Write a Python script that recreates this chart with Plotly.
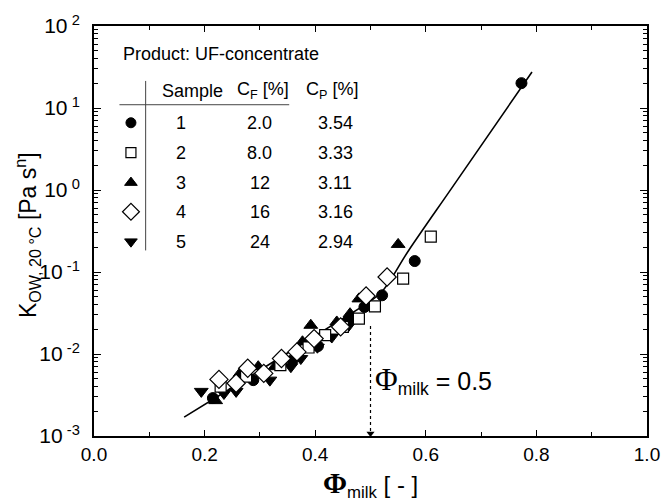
import plotly.graph_objects as go

# ---------------- data ----------------
s1_phi = [0.215, 0.288, 0.359, 0.405, 0.460, 0.489, 0.521, 0.580, 0.773]
s1_K = [0.0029, 0.0048, 0.0084, 0.0125, 0.026, 0.0374, 0.052, 0.136, 20.1]

s2_phi = [0.229, 0.275, 0.337, 0.388, 0.418, 0.450, 0.479, 0.508, 0.559, 0.609]
s2_K = [0.0040, 0.0053, 0.0073, 0.0120, 0.0170, 0.0214, 0.027, 0.038, 0.083, 0.27]

s3_phi = [0.220, 0.264, 0.297, 0.327, 0.377, 0.392, 0.439, 0.463, 0.479, 0.550]
s3_K = [0.0027, 0.0058, 0.0070, 0.0070, 0.0141, 0.0224, 0.0246, 0.031, 0.047, 0.217]

s4_phi = [0.226, 0.257, 0.278, 0.307, 0.339, 0.367, 0.398, 0.446, 0.492, 0.530]
s4_K = [0.0049, 0.0044, 0.0067, 0.0058, 0.0088, 0.0106, 0.0154, 0.0214, 0.051, 0.087]

s5_phi = [0.194, 0.235, 0.257, 0.318, 0.356, 0.374, 0.404, 0.430, 0.460]
s5_K = [0.0035, 0.0033, 0.0035, 0.0048, 0.0070, 0.0088, 0.0121, 0.0161, 0.022]

fit_phi = [0.163, 0.25, 0.35, 0.45, 0.49, 0.52, 0.569, 0.65, 0.792]
fit_K = [0.0017, 0.0039, 0.0103, 0.027, 0.040, 0.057, 0.183, 1.13, 27.5]

phi_crit = 0.5
phi_crit_K_top = 0.022
y_axis_min = 0.001

samples = ["1", "2", "3", "4", "5"]
cf_values = ["2.0", "8.0", "12", "16", "24"]
cp_values = ["3.54", "3.33", "3.11", "3.16", "2.94"]

y_tickvals = [1e-3, 1e-2, 1e-1, 1e0, 1e1, 1e2]
y_ticktext = ["10<sup> -3</sup>", "10<sup> -2</sup>", "10<sup> -1</sup>",
              "10<sup> 0</sup>", "10<sup> 1</sup>", "10<sup> 2</sup>"]
y_minor_vals = [m * d for d in [1e-3, 1e-2, 1e-1, 1e0, 1e1] for m in range(2, 10)]
x_tickvals = [0.0, 0.2, 0.4, 0.6, 0.8, 1.0]
x_ticktext = ["0.0", "0.2", "0.4", "0.6", "0.8", "1.0"]
x_minor_vals = [0.1, 0.3, 0.5, 0.7, 0.9]

# ---------------- styling ----------------
FONT = "Liberation Sans, Arial, Helvetica, sans-serif"

styles = [
    dict(symbol="circle", size=11, color="black", line=dict(color="black", width=1)),
    dict(symbol="square", size=11, color="white", line=dict(color="black", width=1.2)),
    dict(symbol="triangle-up", size=12, color="black", line=dict(color="black", width=1)),
    dict(symbol="diamond", size=14, color="white", line=dict(color="black", width=1.2)),
    dict(symbol="triangle-down", size=12, color="black", line=dict(color="black", width=1)),
]

series = [(s1_phi, s1_K), (s2_phi, s2_K), (s3_phi, s3_K), (s4_phi, s4_K), (s5_phi, s5_K)]

fig = go.Figure()

# fitted curve
fig.add_trace(go.Scatter(x=fit_phi, y=fit_K, mode="lines", line=dict(color="black", width=1.6),
                         line_shape="spline", showlegend=False, hoverinfo="skip"))

# dotted marker line at phi = 0.5
fig.add_trace(go.Scatter(x=[phi_crit, phi_crit], y=[phi_crit_K_top, y_axis_min * 1.06], mode="lines",
                         line=dict(color="black", width=1.2, dash="dot"), showlegend=False))
fig.add_trace(go.Scatter(x=[phi_crit], y=[y_axis_min * 1.07], mode="markers",
                         marker=dict(symbol="triangle-down", size=7, color="black"), showlegend=False))

order = [4, 2, 0, 1, 3]
for i in order:
    px, py = series[i]
    fig.add_trace(go.Scatter(x=px, y=py, mode="markers", marker=styles[i],
                             name="Sample " + samples[i], showlegend=False))

# ---------------- legend table ----------------
row_paper = [0.764, 0.691, 0.618, 0.547, 0.474]
sym_x = 0.0668
for i, yp in enumerate(row_paper):
    ylog = -3 + 5 * yp
    fig.add_trace(go.Scatter(x=[sym_x], y=[10 ** ylog], mode="markers",
                             marker=dict(styles[i], size=styles[i]["size"] - 1), showlegend=False))

ann = []
tf = dict(family=FONT, size=18, color="black")
ann.append(dict(x=0.049, y=0.932, xref="paper", yref="paper", text="Product: UF-concentrate",
                showarrow=False, xanchor="left", yanchor="middle", font=tf))
ann.append(dict(x=0.179, y=0.842, xref="paper", yref="paper", text="Sample",
                showarrow=False, xanchor="center", yanchor="middle", font=tf))
ann.append(dict(x=0.305, y=0.842, xref="paper", yref="paper", text="C<sub>F</sub> [%]",
                showarrow=False, xanchor="center", yanchor="middle", font=tf))
ann.append(dict(x=0.431, y=0.842, xref="paper", yref="paper", text="C<sub>P</sub> [%]",
                showarrow=False, xanchor="center", yanchor="middle", font=tf))
for i, yp in enumerate(row_paper):
    ann.append(dict(x=0.158, y=yp, xref="paper", yref="paper", text=samples[i],
                    showarrow=False, xanchor="center", yanchor="middle", font=tf))
    ann.append(dict(x=0.300, y=yp, xref="paper", yref="paper", text=cf_values[i],
                    showarrow=False, xanchor="center", yanchor="middle", font=tf))
    ann.append(dict(x=0.436, y=yp, xref="paper", yref="paper", text=cp_values[i],
                    showarrow=False, xanchor="center", yanchor="middle", font=tf))

# phi = 0.5 annotation
ann.append(dict(x=0.504, y=0.136, xref="paper", yref="paper",
                text="<span style='font-family:Liberation Serif, Times New Roman, serif;font-size:31px'>Φ</span>"
                     "<sub>milk</sub> = 0.5",
                showarrow=False, xanchor="left", yanchor="middle",
                font=dict(family=FONT, size=25, color="black")))

# axis titles
ann.append(dict(x=-0.122, y=0.489, xref="paper", yref="paper", textangle=-90,
                text="K<sub>OW, 20 °C</sub> [Pa s<sup>n</sup>]",
                showarrow=False, xanchor="center", yanchor="middle",
                font=dict(family=FONT, size=23, color="black")))
ann.append(dict(x=0.5, y=-0.118, xref="paper", yref="paper",
                text="<span style='font-family:Liberation Serif, Times New Roman, serif;font-size:29px'><b>Φ</b></span>"
                     "<sub>milk</sub> [ - ]",
                showarrow=False, xanchor="center", yanchor="middle",
                font=dict(family=FONT, size=24, color="black")))

shapes = [
    dict(type="line", xref="paper", yref="paper", x0=0.0934, x1=0.0934, y0=0.866, y1=0.4526,
         line=dict(color="#444", width=1)),
    dict(type="line", xref="paper", yref="paper", x0=0.046, x1=0.353, y0=0.808, y1=0.808,
         line=dict(color="#444", width=1)),
]

fig.update_layout(
    width=672, height=504,
    margin=dict(l=94, r=14, t=25, b=68),
    paper_bgcolor="white", plot_bgcolor="white",
    font=dict(family=FONT, size=19, color="black"),
    annotations=ann, shapes=shapes, showlegend=False,
    xaxis=dict(range=[0, 1], tickmode="array", tickvals=x_tickvals, ticktext=x_ticktext,
               ticks="inside", ticklen=6, tickwidth=1, tickcolor="black",
               minor=dict(ticks="inside", ticklen=4, tickmode="array", tickvals=x_minor_vals,
                          tickcolor="black", showgrid=False),
               showline=True, linecolor="black", linewidth=2, mirror="ticks",
               showgrid=False, zeroline=False, tickfont=dict(size=19)),
    yaxis=dict(type="log", range=[-3, 2], tickmode="array", tickvals=y_tickvals, ticktext=y_ticktext,
               ticks="inside", ticklen=7, tickwidth=1, tickcolor="black",
               minor=dict(ticks="inside", ticklen=4, tickmode="array", tickvals=y_minor_vals,
                          tickcolor="black", showgrid=False),
               showline=True, linecolor="black", linewidth=2, mirror="ticks",
               ticklabelstandoff=8,
               showgrid=False, zeroline=False, tickfont=dict(size=21)),
)

fig.write_html("out.html",
               config={"displayModeBar": False},
               post_script="document.documentElement.style.overflow='hidden';"
                           "document.body.style.margin='0';document.body.style.overflow='hidden';")
